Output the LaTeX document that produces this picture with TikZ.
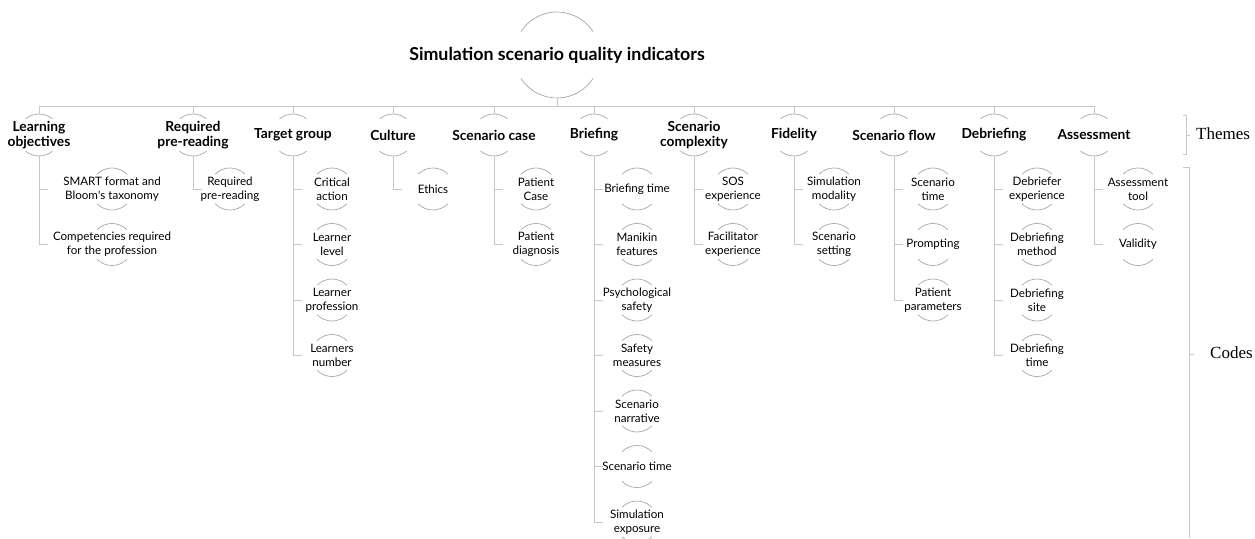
\documentclass[tikz,border=0pt]{standalone}
\usepackage{fontspec}
\setsansfont{Lato}
\newfontfamily\levelfont{Liberation Serif}
\usetikzlibrary{positioning,calc}

\begin{document}
\begin{tikzpicture}[x=1pt,y=1pt]

    \tikzstyle{link}=[draw=black!22, line width=1pt]
    \tikzstyle{arcline}=[draw=black!35, line width=0.7pt]
    \tikzstyle{ring}=[circle, minimum size=42pt, inner sep=0pt, outer sep=0pt]
    \tikzstyle{bigring}=[ring, minimum size=86pt]
    \tikzstyle{titletext}=[font=\sffamily\bfseries\fontsize{17.8}{21}\selectfont, text=black, inner sep=0pt]
    \tikzstyle{theme}=[font=\sffamily\bfseries\fontsize{13.8}{15}\selectfont, text=black, align=center, inner sep=0pt]
    \tikzstyle{code}=[font=\sffamily\fontsize{11.6}{14}\selectfont, text=black, align=center, inner sep=0pt]
    \tikzstyle{level}=[font=\levelfont\fontsize{17}{19}\selectfont, anchor=west, inner sep=0pt]

    \useasboundingbox (0,0) rectangle (1255,-538);

    % Rows of the codes
    \def \rA {-189}
    \def \rB {-244.5}
    \def \rC {-300}
    \def \rD {-355.5}
    \def \rE {-411}
    \def \rF {-466.5}
    \def \rG {-522}

    % Title
    \node at (557,-55) [bigring] (TI) {};
    \node at (TI) [titletext] (TIt) {Simulation scenario quality indicators};
    \draw[arcline] (TI.33) arc[start angle=33, end angle=147, radius=43pt]
                   (TI.213) arc[start angle=213, end angle=327, radius=43pt];

    % Themes
    \node at (39,-135)   [ring] (LO) {};
    \node at (193,-135)  [ring] (RP) {};
    \node at (293,-135)  [ring] (TG) {};
    \node at (393,-135)  [ring] (CU) {};
    \node at (494,-135)  [ring] (SC) {};
    \node at (594,-135)  [ring] (BR) {};
    \node at (694,-135)  [ring] (CX) {};
    \node at (794,-135)  [ring] (FI) {};
    \node at (894,-135)  [ring] (SF) {};
    \node at (994,-135)  [ring] (DB) {};
    \node at (1094,-135) [ring] (AS) {};

    \node at (LO) [theme] (LOt) {Learning\\objectives};
    \node at (RP) [theme] (RPt) {Required\\pre-reading};
    \node at (TG) [theme] (TGt) {Target group};
    \node at (CU) [theme] (CUt) {Culture};
    \node at (SC) [theme] (SCt) {Scenario case};
    \node at (BR) [theme] (BRt) {Briefing};
    \node at (CX) [theme] (CXt) {Scenario\\complexity};
    \node at (FI) [theme] (FIt) {Fidelity};
    \node at (SF) [theme] (SFt) {Scenario flow};
    \node at (DB) [theme] (DBt) {Debriefing};
    \node at (AS) [theme] (ASt) {Assessment};

    % Codes
    \node at (112,\rA)  [ring] (LO1) {};
    \node at (112,\rB)  [ring] (LO2) {};
    \node at (230,\rA)  [ring] (RP1) {};
    \node at (332,\rA)  [ring] (TG1) {};
    \node at (332,\rB)  [ring] (TG2) {};
    \node at (332,\rC)  [ring] (TG3) {};
    \node at (332,\rD)  [ring] (TG4) {};
    \node at (433,\rA)  [ring] (CU1) {};
    \node at (536,\rA)  [ring] (SC1) {};
    \node at (536,\rB)  [ring] (SC2) {};
    \node at (637,\rA)  [ring] (BR1) {};
    \node at (637,\rB)  [ring] (BR2) {};
    \node at (637,\rC)  [ring] (BR3) {};
    \node at (637,\rD)  [ring] (BR4) {};
    \node at (637,\rE)  [ring] (BR5) {};
    \node at (637,\rF)  [ring] (BR6) {};
    \node at (637,\rG)  [ring] (BR7) {};
    \node at (733,\rA)  [ring] (CX1) {};
    \node at (733,\rB)  [ring] (CX2) {};
    \node at (834,\rA)  [ring] (FI1) {};
    \node at (834,\rB)  [ring] (FI2) {};
    \node at (933,\rA)  [ring] (SF1) {};
    \node at (933,\rB)  [ring] (SF2) {};
    \node at (933,\rC)  [ring] (SF3) {};
    \node at (1037,\rA) [ring] (DB1) {};
    \node at (1037,\rB) [ring] (DB2) {};
    \node at (1037,\rC) [ring] (DB3) {};
    \node at (1037,\rD) [ring] (DB4) {};
    \node at (1138,\rA) [ring] (AS1) {};
    \node at (1138,\rB) [ring] (AS2) {};

    \node at (LO1) [code] (LO1t) {SMART format and\\Bloom\textquotesingle s taxonomy};
    \node at (LO2) [code] (LO2t) {Competencies required\\for the profession};
    \node at (RP1) [code] (RP1t) {Required\\pre-reading};
    \node at (TG1) [code] (TG1t) {Critical\\action};
    \node at (TG2) [code] (TG2t) {Learner\\level};
    \node at (TG3) [code] (TG3t) {Learner\\profession};
    \node at (TG4) [code] (TG4t) {Learners\\number};
    \node at (CU1) [code] (CU1t) {Ethics};
    \node at (SC1) [code] (SC1t) {Patient\\Case};
    \node at (SC2) [code] (SC2t) {Patient\\diagnosis};
    \node at (BR1) [code] (BR1t) {Briefing time};
    \node at (BR2) [code] (BR2t) {Manikin\\features};
    \node at (BR3) [code] (BR3t) {Psychological\\safety};
    \node at (BR4) [code] (BR4t) {Safety\\measures};
    \node at (BR5) [code] (BR5t) {Scenario\\narrative};
    \node at (BR6) [code] (BR6t) {Scenario time};
    \node at (BR7) [code] (BR7t) {Simulation\\exposure};
    \node at (CX1) [code] (CX1t) {SOS\\experience};
    \node at (CX2) [code] (CX2t) {Facilitator\\experience};
    \node at (FI1) [code] (FI1t) {Simulation\\modality};
    \node at (FI2) [code] (FI2t) {Scenario\\setting};
    \node at (SF1) [code] (SF1t) {Scenario\\time};
    \node at (SF2) [code] (SF2t) {Prompting};
    \node at (SF3) [code] (SF3t) {Patient\\parameters};
    \node at (DB1) [code] (DB1t) {Debriefer\\experience};
    \node at (DB2) [code] (DB2t) {Debriefing\\method};
    \node at (DB3) [code] (DB3t) {Debriefing\\site};
    \node at (DB4) [code] (DB4t) {Debriefing\\time};
    \node at (AS1) [code] (AS1t) {Assessment\\tool};
    \node at (AS2) [code] (AS2t) {Validity};

    % Open circles round the themes and codes
    \foreach \n in {LO,RP,TG,CU,SC,BR,CX,FI,SF,DB,AS}
        \draw[arcline] (\n.50) arc[start angle=50, end angle=130, radius=21pt]
                       (\n.230) arc[start angle=230, end angle=310, radius=21pt];
    \foreach \n in {LO1,LO2,RP1,TG1,TG2,TG3,TG4,CU1,SC1,SC2,BR1,BR2,BR3,BR4,BR5,BR6,BR7,
                    CX1,CX2,FI1,FI2,SF1,SF2,SF3,DB1,DB2,DB3,DB4,AS1,AS2}
        \draw[arcline] (\n.45) arc[start angle=45, end angle=135, radius=21pt]
                       (\n.225) arc[start angle=225, end angle=315, radius=21pt];

    % Tree lines
    \draw[link] (TI.south) -- ++(0,-9);
    \draw[link] (LO.north) -- ++(0,8) -| (AS.north);
    \foreach \n in {RP,TG,CU,SC,BR,CX,FI,SF,DB}
        \draw[link] (\n.north) -- ++(0,8);
    \foreach \t/\c in {LO/LO1,LO/LO2,RP/RP1,TG/TG1,TG/TG2,TG/TG3,TG/TG4,CU/CU1,SC/SC1,SC/SC2,
                       BR/BR1,BR/BR2,BR/BR3,BR/BR4,BR/BR5,BR/BR6,BR/BR7,CX/CX1,CX/CX2,FI/FI1,FI/FI2,
                       SF/SF1,SF/SF2,SF/SF3,DB/DB1,DB/DB2,DB/DB3,DB/DB4,AS/AS1,AS/AS2}
        \draw[link] (\t.south) |- ([xshift=9pt]\t.south |- \c.west);

    % Levels
    \node at (1196,-134) [level] (themes) {Themes};
    \node at (1210,-353) [level] (codes) {Codes};
    \draw[link] (1183,-115) -- (1186,-115) -- (1186,-154) -- (1183,-154);
    \draw[link] (1186,-135) -- (1190,-135);
    \draw[link] (1183,-167) -- (1189,-167) -- (1189,-538);
    \draw[link] (1189,-354) -- (1194,-354);

\end{tikzpicture}
\end{document}
